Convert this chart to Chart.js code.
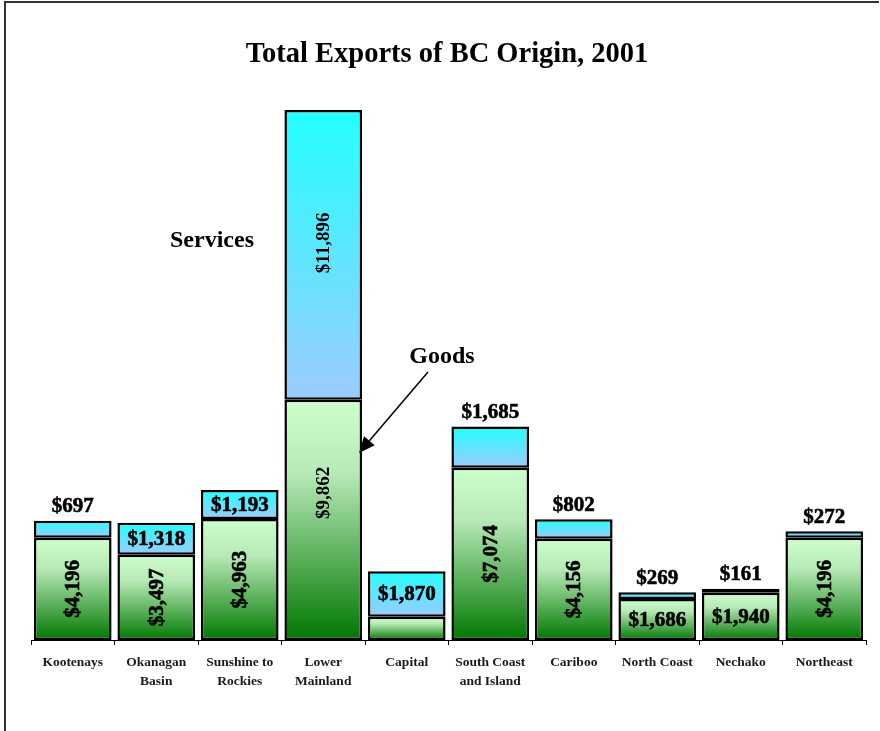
<!DOCTYPE html>
<html>
<head>
<meta charset="utf-8">
<script src="https://cdn.jsdelivr.net/npm/chart.js@4"></script>
<style>
  html, body { margin: 0; padding: 0; background: #fff; }
  #wrap { width: 880px; height: 731px; position: relative; }
</style>
</head>
<body>
<div id="wrap"><canvas id="c" width="880" height="731"></canvas></div>
<script>
const categories = [
  'Kootenays', ['Okanagan', 'Basin'], ['Sunshine to', 'Rockies'], ['Lower', 'Mainland'],
  'Capital', ['South Coast', 'and Island'], 'Cariboo', 'North Coast', 'Nechako', 'Northeast'
];
const goods    = [4196, 3497, 4963, 9862, 950, 7074, 4156, 1686, 1940, 4196];
const services = [697, 1318, 1193, 11896, 1870, 1685, 802, 269, 161, 272];
const yMax = 22000;

// label placement styles (not data)
const goodsLabelMode    = ['v', 'v', 'v', 'v', 'none', 'v', 'v', 'h', 'h', 'v'];
const servicesLabelMode = ['above', 'in', 'in', 'v', 'in', 'above', 'above', 'above', 'above', 'above'];
const labelShift = { 3: { goods: -27, services: -12 } };

const fmt = v => '$' + v.toLocaleString('en-US');
const SERIF = '"Liberation Serif", "Times New Roman", "DejaVu Serif", serif';

function segGradient(ctx, dsIndex) {
  const chart = ctx.chart;
  if (!chart.chartArea || !chart.scales || !chart.scales.y) return null;
  const i = ctx.dataIndex;
  if (i === undefined) return null;
  const y = chart.scales.y;
  const c = chart.ctx;
  let g;
  if (dsIndex === 0) {
    const top = y.getPixelForValue(goods[i]);
    const bot = y.getPixelForValue(0);
    g = c.createLinearGradient(0, top, 0, bot);
    g.addColorStop(0, '#CCFFCC');
    g.addColorStop(0.3, '#B8EAB8');
    g.addColorStop(1, '#007800');
  } else {
    const top = y.getPixelForValue(goods[i] + services[i]);
    const bot = y.getPixelForValue(goods[i]);
    g = c.createLinearGradient(0, top, 0, bot);
    g.addColorStop(0, '#22FFFF');
    g.addColorStop(1, '#9CCBFF');
  }
  return g;
}

const decorPlugin = {
  id: 'decor',
  afterDraw(chart) {
    const c = chart.ctx;
    const y = chart.scales.y;
    const m0 = chart.getDatasetMeta(0);
    c.save();
    // frame lines
    c.strokeStyle = '#333';
    c.lineWidth = 2;
    c.beginPath();
    c.moveTo(5, 731); c.lineTo(5, 2); c.lineTo(879, 2);
    c.stroke();

    // title
    c.fillStyle = '#000';
    c.textAlign = 'center';
    c.textBaseline = 'middle';
    c.font = 'bold 28.5px ' + SERIF;
    c.fillText('Total Exports of BC Origin, 2001', 447, 55);

    // annotations
    c.font = 'bold 24px ' + SERIF;
    c.fillText('Services', 212, 241);
    c.fillText('Goods', 442, 357);
    // arrow
    const x1 = 428, y1 = 372, x2 = 359, y2 = 453;
    const ang = Math.atan2(y2 - y1, x2 - x1);
    const hl = 16, hw = 7;
    const bx = x2 - hl * Math.cos(ang), by = y2 - hl * Math.sin(ang);
    c.strokeStyle = '#000';
    c.lineWidth = 1.5;
    c.beginPath(); c.moveTo(x1, y1); c.lineTo(bx, by); c.stroke();
    c.beginPath();
    c.moveTo(x2, y2);
    c.lineTo(bx + hw * Math.sin(ang), by - hw * Math.cos(ang));
    c.lineTo(bx - hw * Math.sin(ang), by + hw * Math.cos(ang));
    c.closePath();
    c.fillStyle = '#000';
    c.fill();

    // value labels
    for (let i = 0; i < categories.length; i++) {
      const size = i === 3 ? 19 : 21;
      const heavy = i !== 3;
      c.font = 'bold ' + size + 'px ' + SERIF;
      const cx = m0.data[i].x;
      const gTop = y.getPixelForValue(goods[i]);
      const gBot = y.getPixelForValue(0);
      const sTop = y.getPixelForValue(goods[i] + services[i]);
      const sh = labelShift[i] || {};
      const drawText = (txt, x, yy, rotated) => {
        c.save();
        c.translate(x, yy);
        if (rotated) c.rotate(-Math.PI / 2);
        c.textAlign = 'center';
        c.textBaseline = 'middle';
        c.fillStyle = '#000';
        c.fillText(txt, 0, 1);
        if (heavy) {
          c.strokeStyle = '#000';
          c.lineWidth = 0.6;
          c.strokeText(txt, 0, 1);
        }
        c.restore();
      };
      const gm = goodsLabelMode[i];
      if (gm !== 'none') {
        drawText(fmt(goods[i]), cx, (gTop + gBot) / 2 + (sh.goods || 0), gm === 'v');
      }
      const sm = servicesLabelMode[i];
      if (sm === 'above') {
        drawText(fmt(services[i]), cx, sTop - 15, false);
      } else {
        drawText(fmt(services[i]), cx, (sTop + gTop) / 2 + (sh.services || 0), sm === 'v');
      }
    }
    c.restore();
  }
};

new Chart(document.getElementById('c'), {
  type: 'bar',
  data: {
    labels: categories,
    datasets: [
      {
        label: 'Goods',
        data: goods,
        backgroundColor: ctx => segGradient(ctx, 0),
        borderColor: '#000',
        borderWidth: 2.5,
        borderSkipped: false,
        barPercentage: 0.93,
        categoryPercentage: 1.0
      },
      {
        label: 'Services',
        data: services,
        backgroundColor: ctx => segGradient(ctx, 1),
        borderColor: '#000',
        borderWidth: 2.5,
        borderSkipped: false,
        barPercentage: 0.93,
        categoryPercentage: 1.0
      }
    ]
  },
  options: {
    responsive: false,
    animation: false,
    devicePixelRatio: 1,
    layout: { padding: { left: 31, right: 14, top: 104, bottom: 31 } },
    plugins: {
      legend: { display: false },
      title: { display: false },
      tooltip: { enabled: false }
    },
    scales: {
      x: {
        stacked: true,
        afterFit: axis => { axis.height = 60; },
        border: { display: true, color: '#000', width: 1 },
        grid: { display: true, drawOnChartArea: false, drawTicks: true, tickLength: 5, color: '#000', offset: true },
        ticks: {
          color: '#1a1a1a',
          font: { family: SERIF, size: 13.5, weight: 'bold', lineHeight: 1.4 },
          padding: 8,
          maxRotation: 0,
          autoSkip: false
        }
      },
      y: {
        stacked: true,
        display: false,
        min: 0,
        max: yMax
      }
    }
  },
  plugins: [decorPlugin]
});
</script>
</body>
</html>
